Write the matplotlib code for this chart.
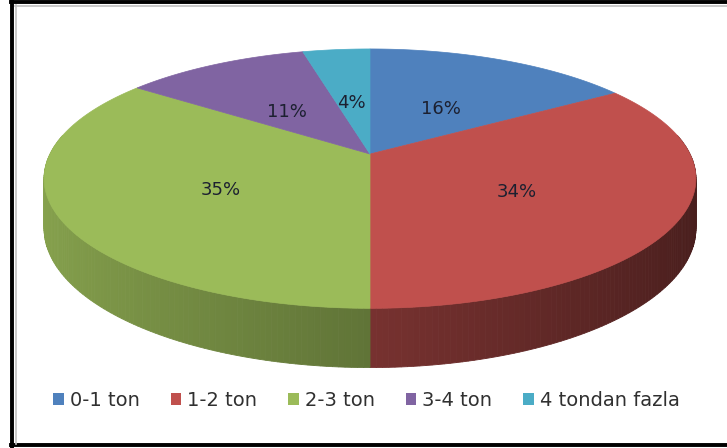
import numpy as np
import matplotlib.pyplot as plt
from matplotlib.patches import Patch
import matplotlib.colors as mcolors

# data
labels = ['0-1 ton', '1-2 ton', '2-3 ton', '3-4 ton', '4 tondan fazla']
shares = [16, 34, 35, 11, 4]
colors = ['#4F81BD', '#C0504D', '#9BBB59', '#8064A2', '#4BACC6']

# tilted disc, drawn in picture pixels (perspective like excel 3d pie)
cx, cy = 370, 154
a, b, k = 320, 125, 0.19
depth = 48


def proj(theta, r=1.0):
    u = r * np.sin(theta)
    v = r * np.cos(theta)
    d = 1 + k * v
    return cx + a * u / d, cy - b * v / d


fig = plt.figure(figsize=(7.27, 4.48), dpi=100)
ax = fig.add_axes([0, 0, 1, 1])
ax.set_xlim(0, 727)
ax.set_ylim(448, 0)
ax.axis('off')

total = sum(shares)
bounds = np.concatenate([[0], np.cumsum(shares)]) / total * 2 * np.pi

# side wall: small strips, far ones first
strips = []
for i in range(len(shares)):
    t = np.linspace(bounds[i], bounds[i + 1], max(3, int(shares[i] * 4)))
    base = np.array(mcolors.to_rgb(colors[i]))
    for t0, t1 in zip(t[:-1], t[1:]):
        tm = (t0 + t1) / 2
        if np.cos(tm) > 0.15:
            continue
        f = 0.62 - 0.25 * np.sin(tm)
        strips.append((np.cos(tm), t0, t1, np.clip(base * f, 0, 1)))
strips.sort(key=lambda s: -s[0])
for _, t0, t1, col in strips:
    x0, y0 = proj(t0)
    x1, y1 = proj(t1)
    d0 = depth / (1 + k * np.cos(t0))
    d1 = depth / (1 + k * np.cos(t1))
    ax.fill([x0, x1, x1, x0], [y0, y1, y1 + d1, y0 + d0], color=col, lw=0.6, ec=col)

# top face
for i in range(len(shares)):
    t = np.linspace(bounds[i], bounds[i + 1], 100)
    xs, ys = proj(t)
    ax.fill(np.r_[cx, xs], np.r_[cy, ys], color=colors[i], lw=0.5, ec=colors[i])

# percent labels
for i in range(len(shares)):
    tm = (bounds[i] + bounds[i + 1]) / 2
    x, y = proj(tm, 0.5)
    ax.text(x, y + 6, f'{shares[i]}%', ha='center', va='center', fontsize=13,
            color='#1c2030')

# frame
ax.plot([11, 727], [2.5, 2.5], color='black', lw=2.8)
ax.plot([12, 12], [1, 447], color='black', lw=2.8)
ax.plot([11, 727], [445.5, 445.5], color='black', lw=2.8)
ax.plot([15.5, 15.5], [5, 444], color='#c0c0c0', lw=1.2)
ax.plot([15, 727], [6, 6], color='#c0c0c0', lw=1.2)

handles = [Patch(facecolor=c, edgecolor='none') for c in colors]
ax.legend(handles, labels, loc='center', bbox_to_anchor=(0.504, 0.107),
          ncol=5, frameon=False, fontsize=14, handlelength=0.55, handleheight=0.55,
          handletextpad=0.3, columnspacing=1.6, labelcolor='#303030')

fig.savefig('out.png', dpi=100)
